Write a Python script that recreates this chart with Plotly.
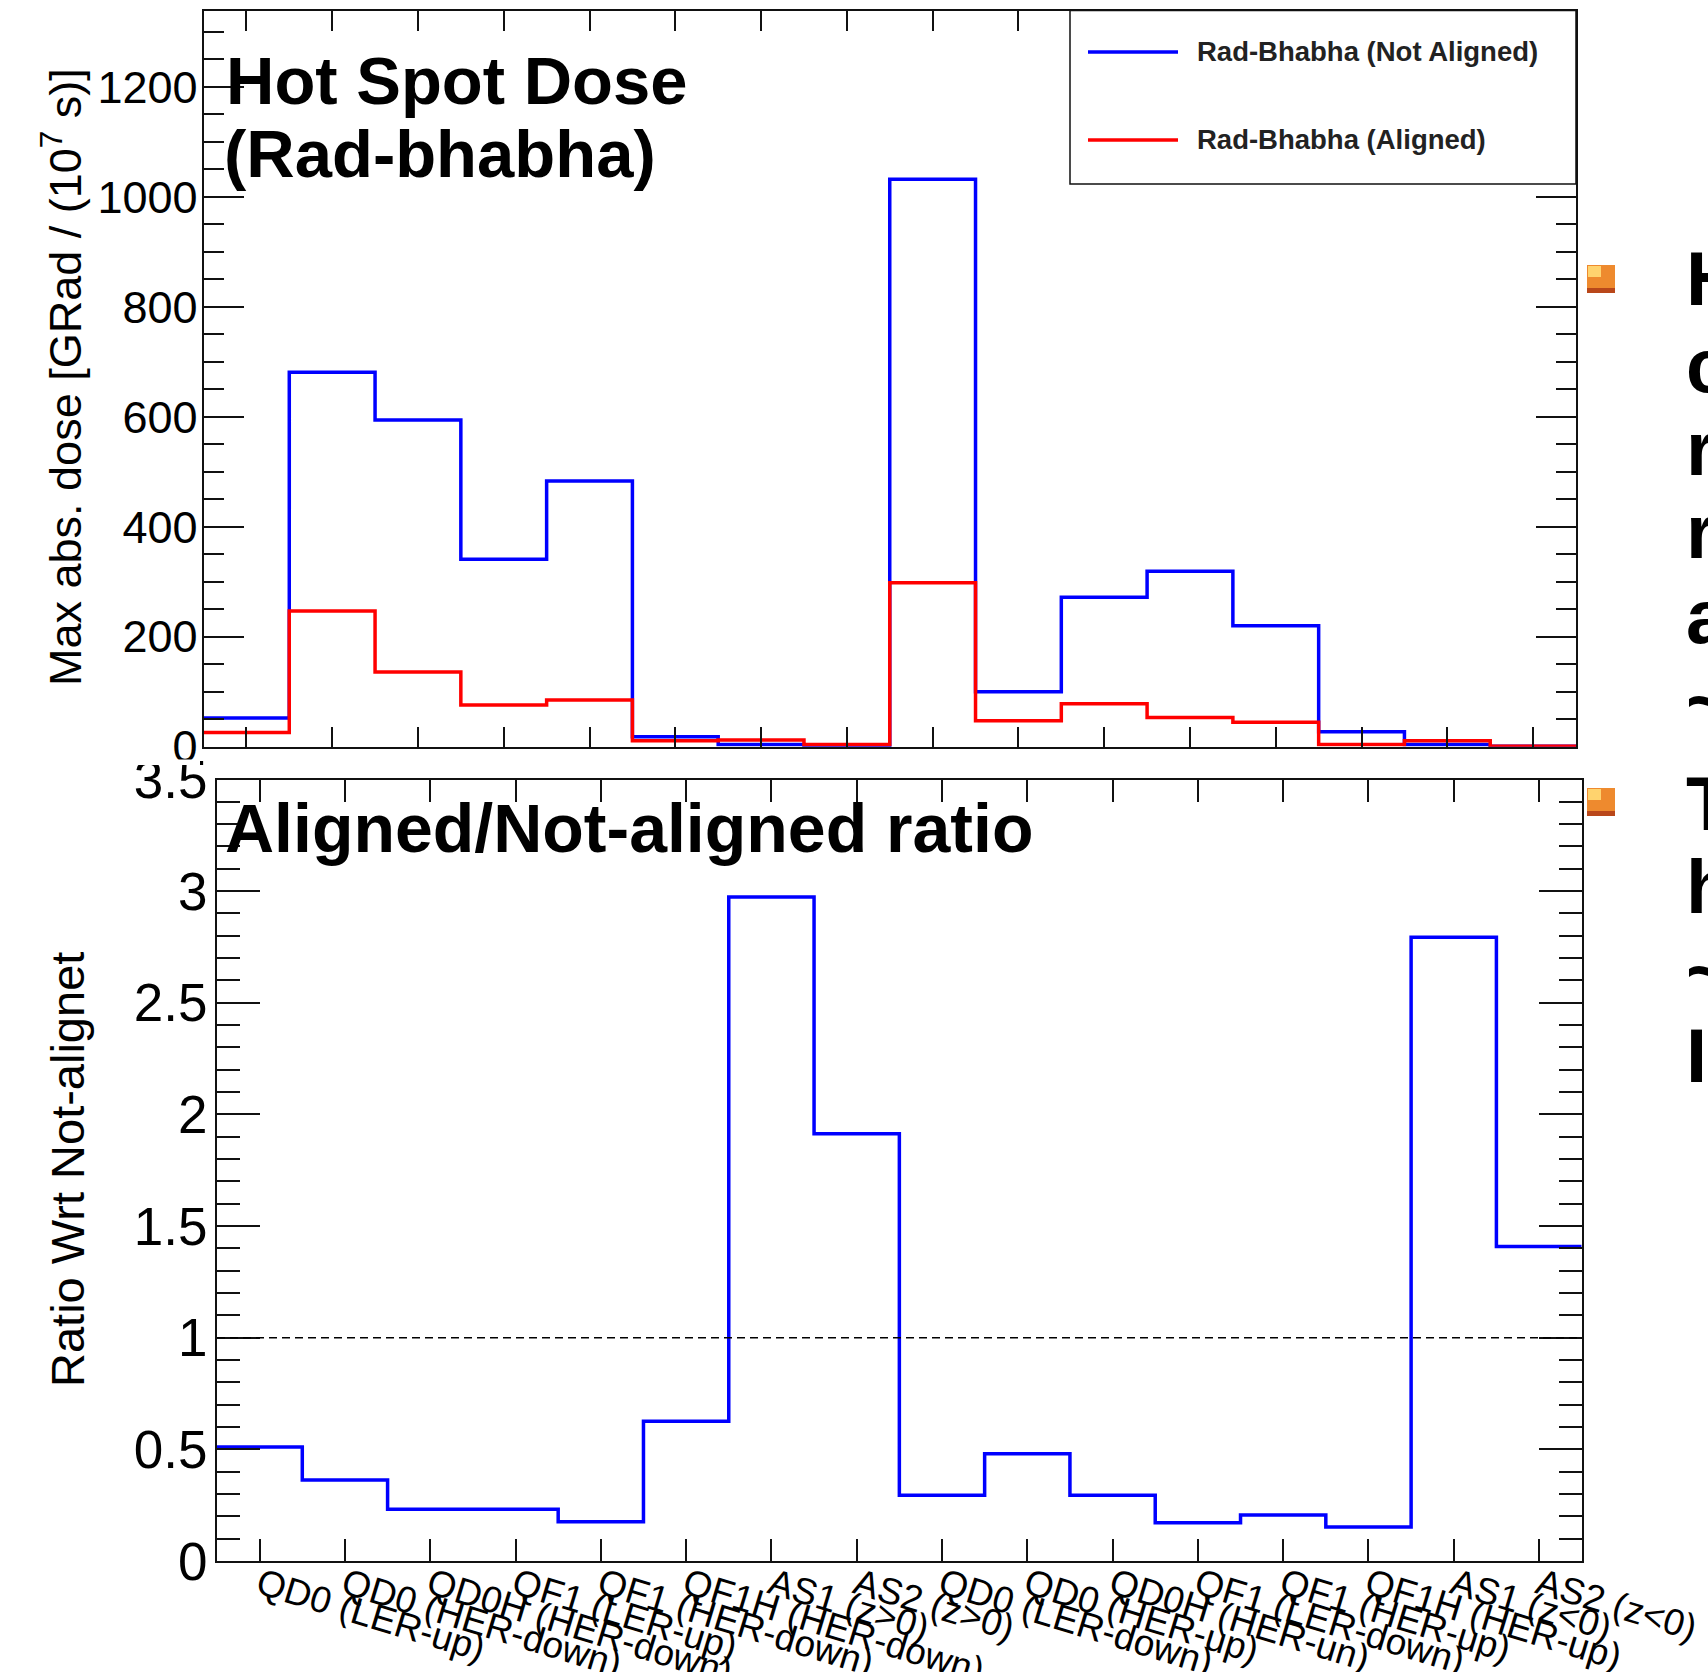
import plotly.graph_objects as go

# ---------------- data ----------------
categories = ["QD0 (LER-up)", "QD0 (HER-down)", "QD0H (HER-down)", "QF1 (LER-up)",
              "QF1 (HER-down)", "QF1H (HER-down)", "AS1 (z>0)", "AS2 (z>0)",
              "QD0 (LER-down)", "QD0 (HER-up)", "QD0H (HER-un)", "QF1 (LER-down)",
              "QF1 (HER-up)", "QF1H (HER-up)", "AS1 (z<0)", "AS2 (z<0)"]
dose_not_aligned = [52, 681, 594, 341, 483, 18, 4, 2.1, 1032, 100, 272, 319, 220, 27, 4, 0.7]
dose_aligned = [26, 247, 136, 76, 85, 11, 12, 4, 298, 47, 78, 53, 44.5, 4, 11, 1]
ratio_aligned_over_not = [0.51, 0.363, 0.232, 0.232, 0.176, 0.626, 2.974, 1.913,
                          0.294, 0.48, 0.294, 0.171, 0.206, 0.152, 2.793, 1.409]
top_yticks = [0, 200, 400, 600, 800, 1000, 1200]
side_letters = ["H", "c", "r", "r", "a", "~", "T", "h", "~", "I"]

# ---------------- geometry helpers ----------------
W, H = 1708, 1672
FONT = "Liberation Sans, Arial, Helvetica, sans-serif"


def px(x):
    return x / W


def py(y):
    return 1 - y / H


n = len(categories)
edges = list(range(n + 1))
centers = [i + 0.5 for i in range(n)]


def step_y(vals):
    return list(vals) + [vals[-1]]


fig = go.Figure()

fig.add_trace(go.Scatter(x=edges, y=step_y(dose_not_aligned), mode="lines",
                         line=dict(color="#0000ff", width=3.5, shape="hv"),
                         xaxis="x", yaxis="y", showlegend=False, hoverinfo="skip"))
fig.add_trace(go.Scatter(x=edges, y=step_y(dose_aligned), mode="lines",
                         line=dict(color="#ff0000", width=3.5, shape="hv"),
                         xaxis="x", yaxis="y", showlegend=False, hoverinfo="skip"))
fig.add_trace(go.Scatter(x=edges, y=step_y(ratio_aligned_over_not), mode="lines",
                         line=dict(color="#0000ff", width=3.5, shape="hv"),
                         xaxis="x2", yaxis="y2", showlegend=False, hoverinfo="skip"))

axis_common = dict(showline=True, linecolor="#111", linewidth=2, mirror="allticks",
                   ticks="inside", tickcolor="#111", tickwidth=2, showgrid=False,
                   zeroline=False, automargin=False)

fig.update_layout(
    width=W, height=H,
    margin=dict(l=0, r=0, t=0, b=0),
    paper_bgcolor="white", plot_bgcolor="white",
    font=dict(family=FONT, color="black"),
    xaxis=dict(domain=[px(203.5), px(1576)], range=[0, n], anchor="y",
               tickvals=centers, showticklabels=False, ticklen=20, **axis_common),
    yaxis=dict(domain=[py(746.7), py(11)], range=[0, 1338], anchor="x",
               tickvals=top_yticks, ticklen=40, ticklabelstandoff=-5,
               tickfont=dict(size=45, family=FONT),
               minor=dict(ticks="inside", ticklen=20, dtick=50, tick0=0,
                          tickcolor="#111", tickwidth=2, showgrid=False),
               **axis_common),
    xaxis2=dict(domain=[px(217), px(1581.7)], range=[0, n], anchor="y2",
                tickvals=centers, ticktext=categories, tickangle=17,
                ticklabelstandoff=-14,
                tickfont=dict(size=37, family=FONT), ticklen=22, **axis_common),
    yaxis2=dict(domain=[py(1561), py(779.5)], range=[0, 3.5], anchor="x2",
                dtick=0.5, tick0=0, ticklen=43, ticklabelstandoff=-3,
                tickfont=dict(size=53, family=FONT),
                minor=dict(ticks="inside", ticklen=23, dtick=0.1, tick0=0,
                           tickcolor="#111", tickwidth=2, showgrid=False),
                **axis_common),
)

shapes = []
# dashed reference line at ratio = 1
shapes.append(dict(type="line", xref="x2 domain", yref="y2", x0=0, x1=1, y0=1, y1=1,
                   line=dict(color="black", width=1.5, dash="8px,5px"), layer="above"))
# lower pad edge clipping the top pad's lowest label (as in the original canvas)
shapes.append(dict(type="rect", xref="paper", yref="paper",
                   x0=px(120), x1=px(200), y0=py(765), y1=py(759.5),
                   line=dict(width=0), fillcolor="white", layer="above"))
# legend box
shapes.append(dict(type="rect", xref="paper", yref="paper",
                   x0=px(1070), x1=px(1576), y0=py(184), y1=py(10.5),
                   line=dict(color="#111", width=1.5), fillcolor="white", layer="above"))
shapes.append(dict(type="line", xref="paper", yref="paper", x0=px(1088), x1=px(1178),
                   y0=py(52), y1=py(52), line=dict(color="#0000ff", width=3.5), layer="above"))
shapes.append(dict(type="line", xref="paper", yref="paper", x0=px(1088), x1=px(1178),
                   y0=py(140), y1=py(140), line=dict(color="#ff0000", width=3.5), layer="above"))
# slide bullets
for top in (265, 788):
    shapes.append(dict(type="rect", xref="paper", yref="paper",
                       x0=px(1587), x1=px(1615), y0=py(top + 28), y1=py(top),
                       line=dict(width=0), fillcolor="#ee8a2e", layer="above"))
    shapes.append(dict(type="rect", xref="paper", yref="paper",
                       x0=px(1587), x1=px(1615), y0=py(top + 28), y1=py(top + 23),
                       line=dict(width=0), fillcolor="#b9471a", layer="above"))
    shapes.append(dict(type="rect", xref="paper", yref="paper",
                       x0=px(1588), x1=px(1601), y0=py(top + 12), y1=py(top + 1),
                       line=dict(width=0), fillcolor="#ffd36e", layer="above"))
fig.update_layout(shapes=shapes)

annotations = []


def text_ann(text, x, baseline, size, bold=False, anchor="left", color="black"):
    t = f"<b>{text}</b>" if bold else text
    return dict(text=t, xref="paper", yref="paper", x=px(x), y=py(baseline - 0.35 * size),
                xanchor=anchor, yanchor="middle", showarrow=False,
                font=dict(family=FONT, size=size, color=color))


annotations.append(text_ann("Hot Spot Dose", 224, 103.5, 67, bold=True))
annotations.append(text_ann("(Rad-bhabha)", 222, 177, 67, bold=True))
annotations.append(text_ann("Aligned/Not-aligned ratio", 223, 851.7, 68, bold=True))
annotations.append(text_ann("Rad-Bhabha (Not Aligned)", 1195, 61, 27.5, bold=True, color="#222"))
annotations.append(text_ann("Rad-Bhabha (Aligned)", 1195, 149, 27.5, bold=True, color="#222"))

annotations.append(dict(text="Max abs. dose [GRad / (10<sup>7</sup> s)]", xref="paper", yref="paper",
                        x=px(62), y=py(377), xanchor="center", yanchor="middle",
                        textangle=-90, showarrow=False, font=dict(family=FONT, size=45)))
annotations.append(dict(text="Ratio Wrt Not-alignet", xref="paper", yref="paper",
                        x=px(67), y=py(1170), xanchor="center", yanchor="middle",
                        textangle=-90, showarrow=False, font=dict(family=FONT, size=47)))

letter_baselines = [305, 392, 475, 558, 643, 727, 830, 913, 997, 1082]
for letter, base in zip(side_letters, letter_baselines):
    annotations.append(text_ann(letter, 1684, base, 76, bold=True))

fig.update_layout(annotations=annotations)

fig.write_html("out.html", config={"displayModeBar": False},
               post_script="document.body.style.margin='0';document.body.style.overflow='hidden';")
